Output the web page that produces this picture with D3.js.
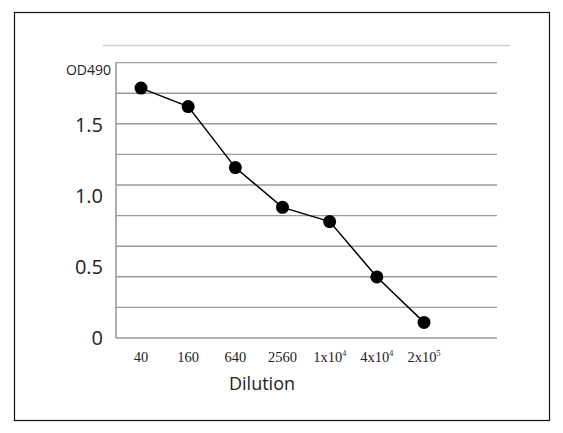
<!DOCTYPE html>
<html>
<head>
<meta charset="utf-8">
<script src="https://cdn.jsdelivr.net/npm/d3@7"></script>
<style>
  body { margin: 0; background: #fff; }
  text { font-family: "Open Sans", sans-serif; fill: #222; }
</style>
</head>
<body>
<svg id="chart" width="563" height="433"></svg>
<script>
const dilutions = ['40', '160', '640', '2560', '1x10^4', '4x10^4', '2x10^5']
const od490 = [1.76, 1.63, 1.20, 0.92, 0.82, 0.43, 0.11]
const yTickLabels = [0, 0.5, 1.0, 1.5]
const gridStep = 0.2155
const gridCount = 10

const svg = d3.select('#chart')

svg.append('rect')
  .attr('x', 14.5).attr('y', 12.5)
  .attr('width', 535).attr('height', 408)
  .attr('fill', 'none').attr('stroke', '#111').attr('stroke-width', 1.2)

const x = d3.scalePoint().domain(dilutions).range([141, 424])
const y = d3.scaleLinear().domain([0, 2]).range([338, 54])

const gridVals = d3.range(gridCount).map(i => i * gridStep)

svg.append('g').selectAll('line')
  .data(gridVals)
  .join('line')
  .attr('x1', 116).attr('x2', 497)
  .attr('y1', d => y(d)).attr('y2', d => y(d))
  .attr('stroke', '#9a9a9a').attr('stroke-width', 1.4)

// faint top line above the plot
svg.append('line')
  .attr('x1', 103).attr('x2', 510)
  .attr('y1', y(2.06)).attr('y2', y(2.06))
  .attr('stroke', '#cfcfcf').attr('stroke-width', 1.4)

svg.append('line')
  .attr('x1', 116).attr('x2', 116)
  .attr('y1', y(gridVals[gridVals.length - 1])).attr('y2', y(0))
  .attr('stroke', '#9a9a9a').attr('stroke-width', 1.6)

svg.append('g').selectAll('text')
  .data(yTickLabels)
  .join('text')
  .attr('x', 103).attr('y', d => y(d) + 7)
  .attr('text-anchor', 'end')
  .attr('font-size', 20)
  .text(d => d === 0 ? '0' : d.toFixed(1))

svg.append('text')
  .attr('x', 111).attr('y', 75)
  .attr('text-anchor', 'end')
  .attr('font-size', 14)
  .text('OD490')

const xl = svg.append('g').selectAll('text')
  .data(dilutions)
  .join('text')
  .attr('x', d => x(d)).attr('y', 362)
  .attr('text-anchor', 'middle')
  .attr('font-size', 14.5)
  .style('font-family', '"Liberation Serif", serif')
xl.each(function (d) {
  const t = d3.select(this)
  const parts = d.split('^')
  t.append('tspan').text(parts[0])
  if (parts[1]) t.append('tspan').attr('dy', -6).attr('font-size', 8).text(parts[1])
})

svg.append('text')
  .attr('x', 262).attr('y', 390)
  .attr('text-anchor', 'middle')
  .attr('font-size', 18)
  .text('Dilution')

const pts = dilutions.map((d, i) => ({ k: d, v: od490[i] }))

svg.append('path')
  .datum(pts)
  .attr('fill', 'none').attr('stroke', '#000').attr('stroke-width', 1.5)
  .attr('d', d3.line().x(d => x(d.k)).y(d => y(d.v)))

svg.append('g').selectAll('circle')
  .data(pts)
  .join('circle')
  .attr('cx', d => x(d.k)).attr('cy', d => y(d.v))
  .attr('r', 6.5).attr('fill', '#000')
</script>
</body>
</html>
